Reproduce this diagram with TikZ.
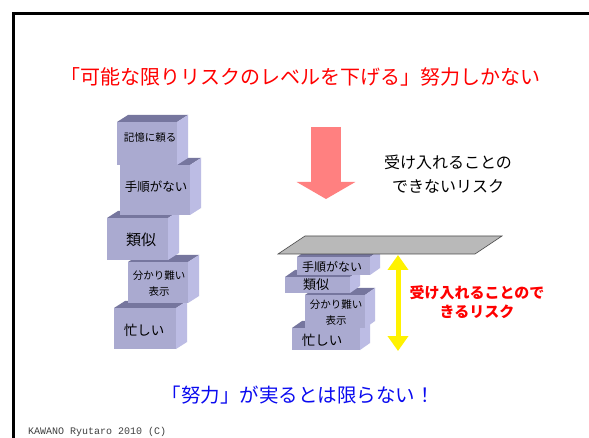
\documentclass[tikz,border=0pt]{standalone}
\usepackage{fontspec}
\setmonofont{Liberation Mono}
\newfontfamily\cjk{Noto Sans CJK JP}
\usetikzlibrary{arrows.meta}
\definecolor{boxfront}{RGB}{170,170,208}
\definecolor{boxtop}{RGB}{118,118,158}
\definecolor{boxside}{RGB}{188,188,228}
\definecolor{titlered}{RGB}{255,0,0}
\definecolor{msgblue}{RGB}{10,10,240}
\definecolor{arrowpink}{RGB}{255,128,128}
\definecolor{planegray}{RGB}{185,185,185}
\newcommand\cdx{10}
\newcommand\cdy{7}
% name, x1, y1, x2, y2, text x, text y, font size, text
\newcommand\cubebox[9]{%
  \fill[boxtop] (#2,#3) -- ++(\cdx,-\cdy) -- (#4+\cdx,#3-\cdy) -- (#4,#3) -- cycle;
  \fill[boxside] (#4,#3) -- (#4+\cdx,#3-\cdy) -- (#4+\cdx,#5-\cdy) -- (#4,#5) -- cycle;
  \fill[boxfront] (#2,#3) rectangle (#4,#5);
  \node[boxtext, font={\cjk\fontsize{#8}{16}\selectfont}] (#1) at (#6,#7) {#9};
}
\begin{document}
\begin{tikzpicture}[x=1pt,y=-1pt,
  boxtext/.style={text=black, align=center, inner sep=0pt},
  cjktext/.style={align=center, inner sep=0pt}]
\useasboundingbox (0,0) rectangle (589,438);
\clip (0,0) rectangle (589,438);
\fill[white] (0,0) rectangle (589,438);
\draw[line width=2.8pt] (13.3,13.3) rectangle (640,480);

% title
\node[cjktext, text=titlered, font={\cjk\fontsize{20}{24}\selectfont}] (title) at (300,77) {「可能な限りリスクのレベルを下げる」努力しかない};

% left stack
\renewcommand\cdx{11}\renewcommand\cdy{7}
\cubebox{l5}{114}{308}{176}{349}{144}{330}{13.5}{忙しい}
\cubebox{l4}{128}{262}{188}{303}{159}{284}{10.5}{分かり難い\\表示}
\cubebox{l3}{107}{218}{168}{260}{141}{240}{15}{類似}
\cubebox{l2}{120}{165}{190}{215}{156}{187}{12.5}{手順がない}
\cubebox{l1}{117}{122}{177}{165}{150}{138}{10.5}{記憶に頼る}

% down arrow
\coordinate (dtop) at (326,127);
\coordinate (dtip) at (326,199);
\draw[arrowpink, line width=30pt, -{Triangle[width=58pt,length=17pt]}] (dtop) -- (dtip);

\node[cjktext, text=black, font={\cjk\fontsize{16}{24}\selectfont}] (unacc) at (448,174) {受け入れることの\\できないリスク};

% right stack
\renewcommand\cdx{10}\renewcommand\cdy{7}
\cubebox{r4}{292}{328}{360}{350}{322}{340}{13.5}{忙しい}
\cubebox{r3}{305}{295}{365}{328}{336}{313}{10.5}{分かり難い\\表示}
\cubebox{r2}{285}{277}{350}{293}{316}{285}{13}{類似}
\cubebox{r1}{297}{257}{370}{275}{332}{267}{12}{手順がない}

% plane
\filldraw[fill=planegray, draw=black!70, line width=0.6pt] (278,254) -- (305,236) -- (502,236) -- (475,254) -- cycle;

% yellow double arrow
\coordinate (ytop) at (398,255);
\coordinate (ybot) at (398,351);
\draw[yellow, line width=5pt, {Triangle[width=20pt,length=15pt]}-{Triangle[width=20pt,length=15pt]}] (ytop) -- (ybot);

\node[cjktext, text=titlered, font={\cjk\bfseries\fontsize{15}{19}\selectfont}] (acc) at (477,302) {受け入れることので\\きるリスク};

% bottom message
\node[cjktext, text=msgblue, font={\cjk\fontsize{19.5}{24}\selectfont}] (msg) at (298,395) {「努力」が実るとは限らない！};

\node[anchor=west, inner sep=0pt, text=black!75, font=\ttfamily\fontsize{10}{10}\selectfont] (foot) at (28,432) {KAWANO Ryutaro 2010 (C)};
\end{tikzpicture}
\end{document}
